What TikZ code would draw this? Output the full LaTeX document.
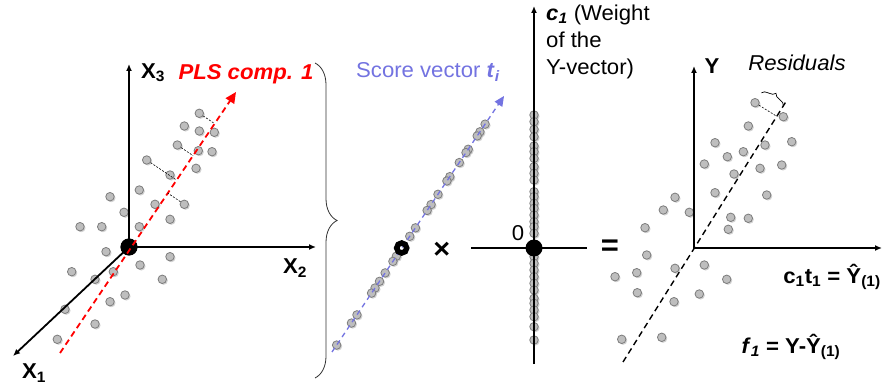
\documentclass[tikz,border=0pt]{standalone}
\usepackage{fontspec}
\setmainfont{Liberation Sans}[FakeStretch=1.03]
\usepackage{xcolor}
\usepackage{tikz}
\usetikzlibrary{arrows.meta,calc,decorations.pathreplacing,shadows}

\definecolor{plsred}{RGB}{255,0,0}
\definecolor{scoreblue}{RGB}{115,115,225}
\definecolor{dotgray}{RGB}{190,190,190}
\definecolor{dotedge}{RGB}{125,125,125}
\newcommand{\figfont}{\fontsize{21.5}{27}\selectfont}

\begin{document}
\begin{tikzpicture}[
  x=1pt, y=-1pt,
  dot/.style={circle, draw=dotedge, fill=dotgray, line width=0.8pt, minimum size=8.5pt, inner sep=0pt,
              drop shadow={opacity=0.35, shadow xshift=1.3pt, shadow yshift=-1.3pt}},
  bigdot/.style={circle, fill=black, minimum size=17pt, inner sep=0pt},
  axis/.style={line width=1.8pt, -{Latex[length=7pt,width=6pt]}},
  plain/.style={line width=1.8pt},
  lbl/.style={font=\figfont\bfseries, inner sep=0pt},
  txt/.style={font=\figfont, inner sep=0pt},
  resid/.style={dash pattern=on 2pt off 1.5pt, line width=0.6pt},
  fitline/.style={dash pattern=on 6pt off 4pt, line width=1.4pt}
]
\fill[white] (0,0) rectangle (889,387);

% X-space
\foreach \px/\py [count=\i] in {199.3/113.3, 184.3/126, 199.3/131, 214.3/132.3, 177.3/145,
    198.3/150.7, 212/151.7, 146.7/160, 170/175, 196/168.3, 139.3/190, 110/196.7, 155/204.3,
    184.3/204.3, 170/219.3, 124/212.3, 80/226.7, 101.7/226.7, 139.3/226.7, 106/251.7,
    170/256.7, 140/265, 113.3/271.7, 71.7/271.7, 95/279.3, 162.3/279.3, 125/295, 110/301.7,
    65/309.3, 95/324, 57.3/339.3}
  \node[dot] (l\i) at (\px,\py) {};
\node[bigdot] (o1) at (129,247) {};
\coordinate (x1) at (13,356);
\coordinate (x2) at (316,247);
\coordinate (x3) at (129,64);
\draw[axis] (o1.center) -- (x1);
\draw[axis] (o1.center) -- (x2);
\draw[axis] (o1.center) -- (x3);
\node[bigdot] at (o1) {};
\coordinate (pls0) at (60,353);
\coordinate (pls1) at (236,92);
\draw[plsred, line width=1.8pt, dash pattern=on 6pt off 4pt, -{Triangle[length=11pt,width=10pt]}] (pls0) -- (pls1);
\foreach \i in {1,5,8,13,14}
  \draw[resid] (l\i) -- ($(pls0)!(l\i)!(pls1)$);
\node[lbl] (lx3) at (153,73) {X\textsubscript{3}};
\node[lbl] (lx2) at (295,268) {X\textsubscript{2}};
\node[lbl] (lx1) at (34,373) {X\textsubscript{1}};
\node[lbl, text=plsred, font=\figfont\bfseries\itshape] (pls) at (246,74) {PLS comp. 1};

\coordinate (br0) at (315,63);
\coordinate (br1) at (315,378);
\draw[black!80, line width=0.8pt, decorate, decoration={brace, amplitude=22pt}] (br0) -- (br1);

% scores
\coordinate (sv0) at (332,352);
\coordinate (sv1) at (504,96);
\foreach \t [count=\i] in {0.890, 0.860, 0.844, 0.792, 0.779, 0.740, 0.685, 0.668, 0.616, 0.576,
    0.553, 0.485, 0.452, 0.374, 0.354, 0.309, 0.276, 0.250, 0.230, 0.145, 0.113, 0.027}
  \node[dot] (s\i) at ($(sv0)!\t!(sv1)$) {};
\draw[scoreblue, line width=1.3pt, dash pattern=on 5pt off 4pt, -{Triangle[length=10pt,width=9pt]}] (sv0) -- (sv1);
\node[circle, draw=black, line width=5.5pt, minimum size=10pt, inner sep=0pt] (ring) at (401.7,248) {};
\node[txt, text=scoreblue] (svl) at (428,72) {Score vector \textbf{\textit{t}\textsubscript{\textit{i}}}};
\node[inner sep=0pt, font=\fontsize{28}{28}\selectfont\bfseries] (times) at (441.7,250) {×};

% weight
\foreach \py [count=\i] in {115, 121.7, 129.3, 136.7, 146, 151.7, 158.3, 166.7, 173.3, 180,
    191.7, 196.7, 203.3, 208.3, 215, 221.7, 226.7, 233.3, 256.7, 263.3, 270, 276.7, 283.3,
    290, 298.3, 303.3, 310, 316.7, 326.7, 340}
  \node[dot] (c\i) at (534,\py) {};
\coordinate (ctop) at (534,6);
\coordinate (cbot) at (534,364);
\coordinate (hl) at (471,248);
\coordinate (hr) at (587,248);
\draw[axis] (cbot) -- (ctop);
\draw[plain] (hl) -- (hr);
\node[bigdot] (o2) at (534,248) {};
\node[txt] (zero) at (518,233) {0};
\node[txt, anchor=north west, align=left] (cw) at (546,5)
  {\textbf{\textit{c}\textsubscript{\textit{1}}} (Weight\\of the\\Y-vector)};
\node[inner sep=0pt, font=\fontsize{30}{30}\selectfont\bfseries] (eq) at (610,248) {=};

% Y-space
\foreach \px/\py [count=\i] in {755/102.7, 783.3/116.7, 748.3/126, 765/145, 791.7/141.7,
    715/142.7, 743.3/151.7, 727.3/156.7, 781.7/165, 704.3/164, 760/168.3, 734/174, 766.7/195,
    715/192.7, 675/197.3, 663.3/210, 689.3/212.3, 730.7/217.3, 748.3/218.3, 728.3/229.3,
    645/227.7, 646.7/255, 704.3/265, 675/268.3, 615/276.7, 636.7/272.7, 726.7/279.3,
    637.3/292.7, 699.3/294, 674/301.7, 621.7/339.3, 661.7/337.3}
  \node[dot] (r\i) at (\px,\py) {};
\coordinate (o3) at (694,248);
\coordinate (yax) at (694,66);
\coordinate (xax) at (882,248);
\draw[line width=1.8pt, {Latex[length=7pt,width=6pt]}-{Latex[length=7pt,width=6pt]}] (yax) -- (o3) -- (xax);
\coordinate (f0) at (623,362);
\coordinate (f1) at (787,100);
\draw[fitline] (f0) -- (f1);
\draw[resid] (r1) -- ($(f0)!(r1)!(f1)$);
\coordinate (rb0) at (761.4,92.8);
\coordinate (rb1) at (783.4,105.9);
\draw[line width=0.7pt, decorate, decoration={brace, amplitude=7pt}] (rb0) -- (rb1);
\node[lbl] (ylab) at (712,66) {Y};
\node[txt, font=\figfont\itshape] (res) at (797,63) {Residuals};
\node[lbl] (yhat) at (832,277) {c\textsubscript{1}t\textsubscript{1} = Ŷ\textsubscript{(1)}};
\node[lbl] (fres) at (791,347) {\textit{f}\textsubscript{\textit{1}} = Y-Ŷ\textsubscript{(1)}};
\end{tikzpicture}
\end{document}
